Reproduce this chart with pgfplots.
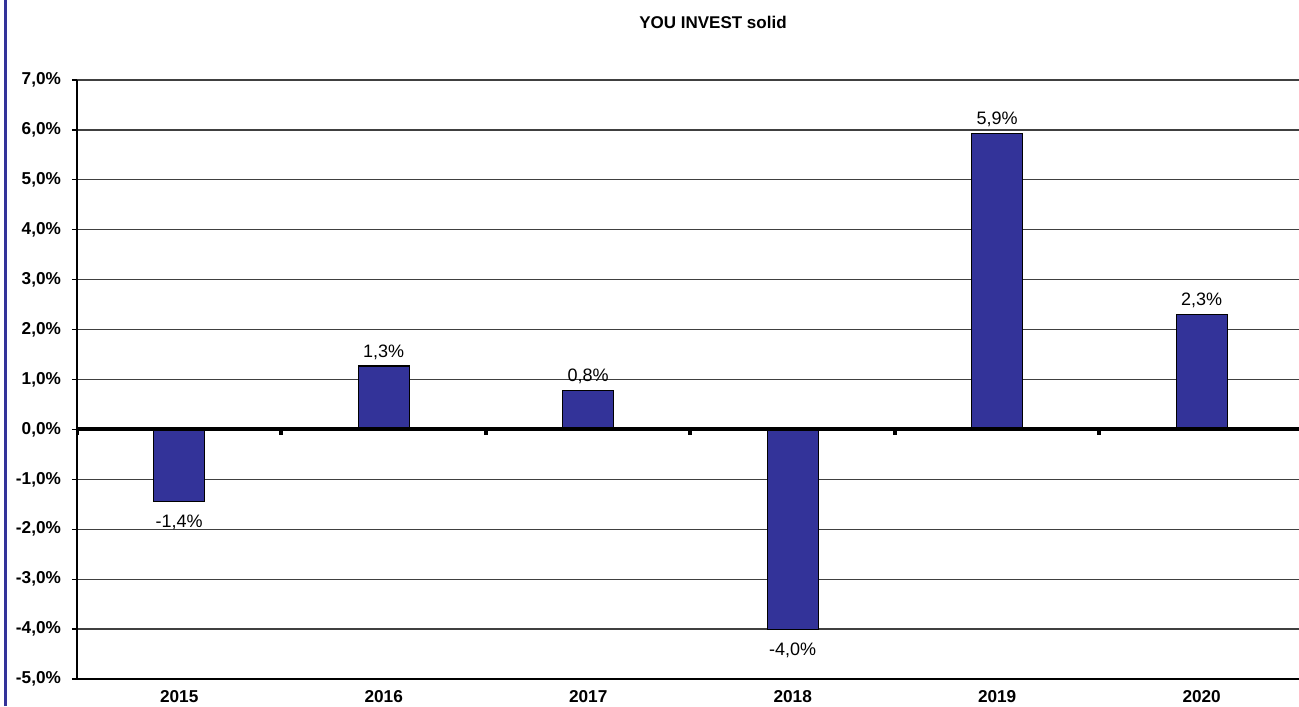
\documentclass[border=0pt]{standalone}
\usepackage{pgfplots}
\pgfplotsset{compat=1.18}
\usepackage{fontspec}
\setmainfont{Liberation Sans}
\definecolor{barblue}{RGB}{51,51,153}
\definecolor{frameblue}{RGB}{51,51,153}

\begin{document}
\begin{tikzpicture}
\begin{axis}[
    name=ax,
    scale only axis,
    width=611pt, height=299.5pt,
    xmin=-0.5, xmax=5.476,
    ymin=-5, ymax=7,
    axis lines*=left,
    axis line style={black, line width=0.6pt},
    xtick={0,1,2,3,4,5},
    xticklabels={2015,2016,2017,2018,2019,2020},
    x tick style={draw=none},
    ytick={-5,-4,...,7},
    y tick style={black, line width=0.6pt},
    tick align=outside,
    major tick length=2.5pt,
    ymajorgrids,
    major grid style={black!75, line width=0.6pt},
    scaled ticks=false,
    /pgf/number format/fixed,
    /pgf/number format/fixed zerofill,
    /pgf/number format/precision=1,
    /pgf/number format/use comma,
    /pgf/number format/assume math mode=true,
    yticklabel={\pgfmathprintnumber{\tick}\%},
    ticklabel style={font=\fontsize{8.6}{10}\selectfont\bfseries},
    yticklabel style={xshift=-2pt},
    xticklabel style={yshift=0.5pt},
    ybar, bar width=0.25,
    visualization depends on={ifthenelse(y<0,-3.5,0) \as \dy},
    nodes near coords={\pgfmathprintnumber{\pgfplotspointmeta}\%},
    nodes near coords align={vertical},
    every node near coord/.append style={font=\fontsize{9}{10}\selectfont, black, inner sep=3pt, yshift=\dy pt},
]
\addplot[fill=barblue, draw=black, line width=0.6pt]
    coordinates {(0,-1.44) (1,1.27) (2,0.78) (3,-4.01) (4,5.93) (5,2.30)};

% zero line with its little ticks at the category boundaries
\draw[black, line width=2pt] (axis cs:-0.5,0) -- (axis cs:5.476,0);
\pgfplotsinvokeforeach{-0.5,0.5,1.5,2.5,3.5,4.5}{
    \draw[black, line width=2pt] (axis cs:#1,0) -- ++(0pt,-3pt);
}
\end{axis}

\pgfresetboundingbox
\useasboundingbox ([shift={(-38.5pt,-13.5pt)}]ax.south west) rectangle ([shift={(0pt,40pt)}]ax.north east);

\node[font=\fontsize{8.5}{10}\selectfont\bfseries] at ([shift={(318pt,29pt)}]ax.north west) {YOU INVEST solid};

\draw[frameblue, line width=1.5pt] ([shift={(-35.75pt,-13.5pt)}]ax.south west) -- ([shift={(-35.75pt,40pt)}]ax.north west);
\end{tikzpicture}
\end{document}
